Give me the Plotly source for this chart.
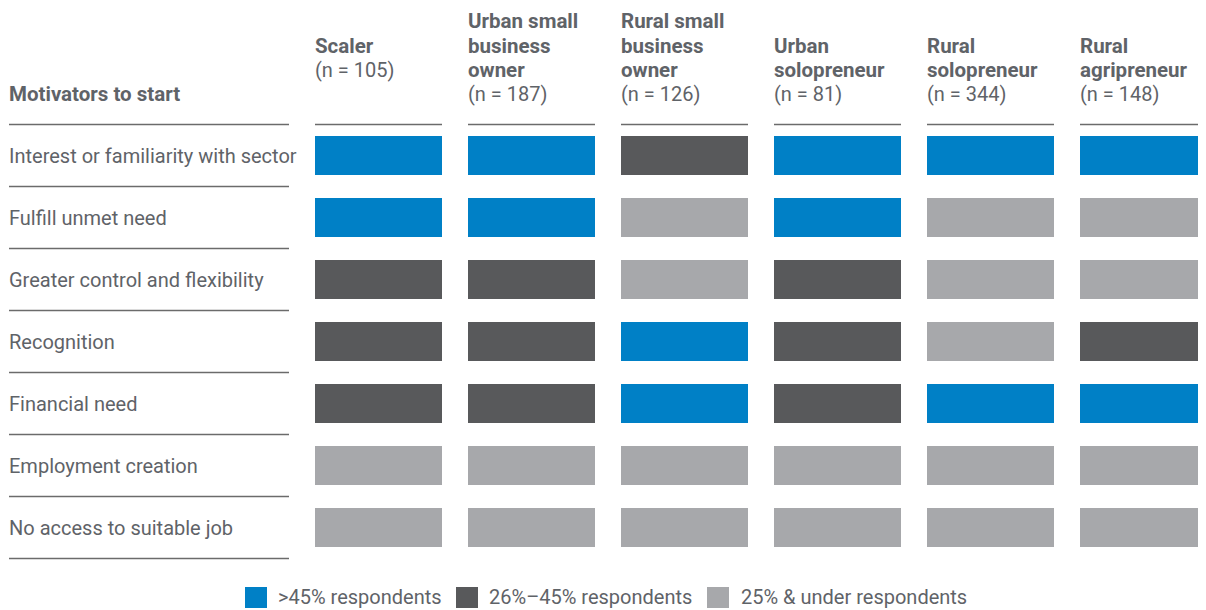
import plotly.graph_objects as go

# ---- data ----
motivators = [
    "Interest or familiarity with sector",
    "Fulfill unmet need",
    "Greater control and flexibility",
    "Recognition",
    "Financial need",
    "Employment creation",
    "No access to suitable job",
]
segment_lines = [
    ["Scaler"],
    ["Urban small", "business", "owner"],
    ["Rural small", "business", "owner"],
    ["Urban", "solopreneur"],
    ["Rural", "solopreneur"],
    ["Rural", "agripreneur"],
]
sample_sizes = [105, 187, 126, 81, 344, 148]
header_first_row = [1, 0, 0, 1, 1, 1]  # which header text row the first line sits on

# 2 = >45%, 1 = 26%-45%, 0 = 25% & under ; rows = motivators, cols = segments
levels = [
    [2, 2, 1, 2, 2, 2],
    [2, 2, 0, 2, 0, 0],
    [1, 1, 0, 1, 0, 0],
    [1, 1, 2, 1, 0, 1],
    [1, 1, 2, 1, 2, 2],
    [0, 0, 0, 0, 0, 0],
    [0, 0, 0, 0, 0, 0],
]
level_names = {2: ">45% respondents", 1: "26%–45% respondents", 0: "25% & under respondents"}
level_colors = {2: "#0080C6", 1: "#58595B", 0: "#A7A8AB"}

# ---- layout constants (page pixels) ----
W, H = 1206, 610
OFF = 8  # default page body margin
FW, FH = W - OFF, H - OFF
COL_PITCH, COL0_CENTER, COL_W = 153.0, 378.5, 127.0
ROW_PITCH, ROW0_CENTER, ROW_H = 62.0, 155.5, 39.0
FONT = "Roboto, 'Open Sans', Arial, sans-serif"
TXT = "#5f6368"
LINE = "#6b6b6b"
TXT_SHIFT = 2 / COL_PITCH  # compensate annotation padding


def px(x):
    return (x - OFF) / FW


def py(y):
    return 1 - (y - OFF) / FH


xr = [(OFF - COL0_CENTER) / COL_PITCH, (W - COL0_CENTER) / COL_PITCH]
yr = [(H - ROW0_CENTER) / ROW_PITCH, (OFF - ROW0_CENTER) / ROW_PITCH]
bw = COL_W / COL_PITCH
bh = ROW_H / ROW_PITCH
lab_x0 = (9 - COL0_CENTER) / COL_PITCH
lab_x1 = (289 - COL0_CENTER) / COL_PITCH
LABEL_PX = 7  # left edge of row label text box (page px)

fig = go.Figure()
for lvl in [2, 1, 0]:
    xs, bases, hs = [], [], []
    for r, row in enumerate(levels):
        for c, v in enumerate(row):
            if v == lvl:
                xs.append(c)
                bases.append(r - bh / 2)
                hs.append(bh)
    fig.add_trace(go.Bar(
        x=xs, y=hs, base=bases, width=bw,
        marker=dict(color=level_colors[lvl], line=dict(width=0)),
        name=level_names[lvl], showlegend=False,
        hovertemplate="%{x}<extra>" + level_names[lvl] + "</extra>",
    ))

shapes = []
annotations = []
# row separators and labels
for k in range(len(motivators) + 1):
    shapes.append(dict(type="line", xref="x", yref="y", x0=lab_x0, x1=lab_x1,
                       y0=k - 0.5, y1=k - 0.5, line=dict(color=LINE, width=1.3)))
for r, name in enumerate(motivators):
    annotations.append(dict(xref="paper", yref="y", x=px(LABEL_PX), y=r, text=name,
                            xanchor="left", yanchor="middle", showarrow=False,
                            font=dict(family=FONT, size=20, color=TXT)))

HEAD_ROWS = [21, 45.5, 70, 94.5]  # centres of header text rows (page px)
annotations.append(dict(xref="paper", yref="paper", x=px(LABEL_PX), y=py(HEAD_ROWS[3]),
                        text="<b>Motivators to start</b>", xanchor="left", yanchor="middle",
                        showarrow=False, font=dict(family=FONT, size=20.5, color=TXT)))
# column headers and lines
for c, (lines, n) in enumerate(zip(segment_lines, sample_sizes)):
    shapes.append(dict(type="line", xref="x", yref="y", x0=c - bw / 2, x1=c + bw / 2,
                       y0=-0.5, y1=-0.5, line=dict(color=LINE, width=1.3)))
    texts = ["<b>%s</b>" % t for t in lines] + ["(n = %d)" % n]
    for j, t in enumerate(texts):
        bold = j < len(lines)
        annotations.append(dict(xref="x", yref="paper", x=c - bw / 2 - TXT_SHIFT,
                                y=py(HEAD_ROWS[header_first_row[c] + j]),
                                text=t, xanchor="left", yanchor="middle", align="left",
                                showarrow=False,
                                font=dict(family=FONT, size=20.5 if bold else 20, color=TXT)))

# legend (manual, large swatches)
leg_items = [(2, 245, 276), (1, 456, 487), (0, 707, 739)]
for lvl, sx, tx in leg_items:
    shapes.append(dict(type="rect", xref="paper", yref="paper",
                       x0=px(sx), x1=px(sx + 22), y0=py(608), y1=py(587),
                       fillcolor=level_colors[lvl], line=dict(width=0)))
    annotations.append(dict(xref="paper", yref="paper", x=px(tx), y=py(597),
                            text=level_names[lvl], xanchor="left", yanchor="middle",
                            showarrow=False, font=dict(family=FONT, size=20, color=TXT)))

fig.update_layout(
    width=FW, height=FH, autosize=False,
    margin=dict(l=0, r=0, t=0, b=0),
    paper_bgcolor="white", plot_bgcolor="white",
    xaxis=dict(range=xr, visible=False, fixedrange=True),
    yaxis=dict(range=yr, visible=False, fixedrange=True),
    shapes=shapes, annotations=annotations,
    bargap=0, barmode="overlay", showlegend=False,
)
fig.write_html("out.html")
